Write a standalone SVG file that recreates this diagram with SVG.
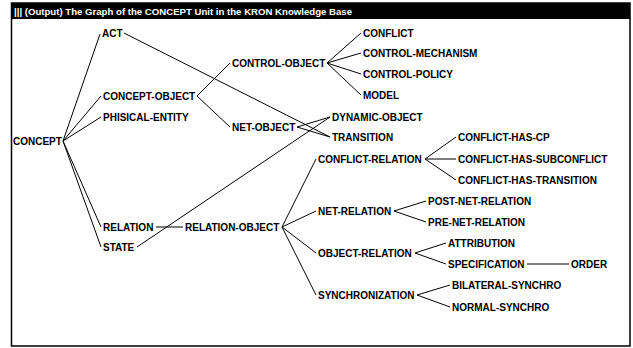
<svg xmlns="http://www.w3.org/2000/svg" width="633" height="348" viewBox="0 0 633 348">
<style>
text{font-family:"Liberation Sans",Arial,sans-serif;font-weight:bold;font-size:10px;fill:#000}
.title{fill:#fff;font-size:9.5px}
#connectors line{stroke:#000;stroke-width:1;fill:none}
</style>
<rect x="0" y="0" width="633" height="348" fill="#fff"/>
<rect x="11.5" y="3" width="618.5" height="343" fill="none" stroke="#000" stroke-width="1.5"/>
<rect x="11" y="3" width="619" height="16" fill="#000"/>
<text class="title" x="14" y="14.5" textLength="338" lengthAdjust="spacingAndGlyphs">||| (Output) The Graph of the CONCEPT Unit in the KRON Knowledge Base</text>
<g id="connectors">
<line x1="63" y1="141" x2="100" y2="34"/>
<line x1="63" y1="141" x2="101" y2="96"/>
<line x1="63" y1="141" x2="101" y2="117"/>
<line x1="63" y1="141" x2="101" y2="227"/>
<line x1="63" y1="141" x2="101" y2="247"/>
<line x1="124" y1="33" x2="330" y2="137"/>
<line x1="197" y1="96" x2="230" y2="63"/>
<line x1="197" y1="96" x2="230" y2="127"/>
<line x1="327" y1="63" x2="361" y2="33"/>
<line x1="327" y1="63" x2="361" y2="53"/>
<line x1="327" y1="63" x2="361" y2="74"/>
<line x1="327" y1="63" x2="361" y2="95"/>
<line x1="297" y1="127" x2="330" y2="117"/>
<line x1="297" y1="127" x2="330" y2="137"/>
<line x1="137" y1="247" x2="330" y2="117"/>
<line x1="156" y1="227" x2="183" y2="227"/>
<line x1="282" y1="227" x2="316" y2="159"/>
<line x1="282" y1="227" x2="316" y2="211"/>
<line x1="282" y1="227" x2="316" y2="253"/>
<line x1="282" y1="227" x2="316" y2="295"/>
<line x1="425" y1="159" x2="456" y2="137"/>
<line x1="425" y1="159" x2="456" y2="159"/>
<line x1="425" y1="159" x2="456" y2="180"/>
<line x1="394" y1="211" x2="426" y2="201"/>
<line x1="394" y1="211" x2="426" y2="222"/>
<line x1="415" y1="253" x2="446" y2="243"/>
<line x1="415" y1="253" x2="446" y2="264"/>
<line x1="527" y1="264" x2="569" y2="264"/>
<line x1="417" y1="295" x2="450" y2="285"/>
<line x1="417" y1="295" x2="450" y2="307"/>
</g>
<g id="concept"><text x="13" y="144.5">CONCEPT</text></g>
<g id="act"><text x="102" y="36.5">ACT</text></g>
<g id="concept-object"><text x="103" y="99.5">CONCEPT-OBJECT</text></g>
<g id="phisical-entity"><text x="103" y="120.5">PHISICAL-ENTITY</text></g>
<g id="relation"><text x="103" y="230.5">RELATION</text></g>
<g id="state"><text x="103" y="250.5">STATE</text></g>
<g id="relation-object"><text x="185" y="230.5">RELATION-OBJECT</text></g>
<g id="control-object"><text x="232" y="66.5">CONTROL-OBJECT</text></g>
<g id="net-object"><text x="232" y="130.5">NET-OBJECT</text></g>
<g id="dynamic-object"><text x="332" y="120.5">DYNAMIC-OBJECT</text></g>
<g id="transition"><text x="332" y="140.5">TRANSITION</text></g>
<g id="conflict"><text x="363" y="36.5">CONFLICT</text></g>
<g id="control-mechanism"><text x="363" y="56.5">CONTROL-MECHANISM</text></g>
<g id="control-policy"><text x="363" y="77.5">CONTROL-POLICY</text></g>
<g id="model"><text x="363" y="98.5">MODEL</text></g>
<g id="conflict-relation"><text x="318" y="162.5">CONFLICT-RELATION</text></g>
<g id="net-relation"><text x="318" y="214.5">NET-RELATION</text></g>
<g id="object-relation"><text x="318" y="256.5">OBJECT-RELATION</text></g>
<g id="synchronization"><text x="318" y="298.5">SYNCHRONIZATION</text></g>
<g id="conflict-has-cp"><text x="458" y="140.5">CONFLICT-HAS-CP</text></g>
<g id="conflict-has-subconflict"><text x="458" y="162.5">CONFLICT-HAS-SUBCONFLICT</text></g>
<g id="conflict-has-transition"><text x="458" y="183.5">CONFLICT-HAS-TRANSITION</text></g>
<g id="post-net-relation"><text x="428" y="204.5">POST-NET-RELATION</text></g>
<g id="pre-net-relation"><text x="428" y="225.5">PRE-NET-RELATION</text></g>
<g id="attribution"><text x="448" y="246.5">ATTRIBUTION</text></g>
<g id="specification"><text x="448" y="267.5">SPECIFICATION</text></g>
<g id="order"><text x="571" y="267.5">ORDER</text></g>
<g id="bilateral-synchro"><text x="452" y="288.5">BILATERAL-SYNCHRO</text></g>
<g id="normal-synchro"><text x="452" y="310.5">NORMAL-SYNCHRO</text></g>
</svg>
